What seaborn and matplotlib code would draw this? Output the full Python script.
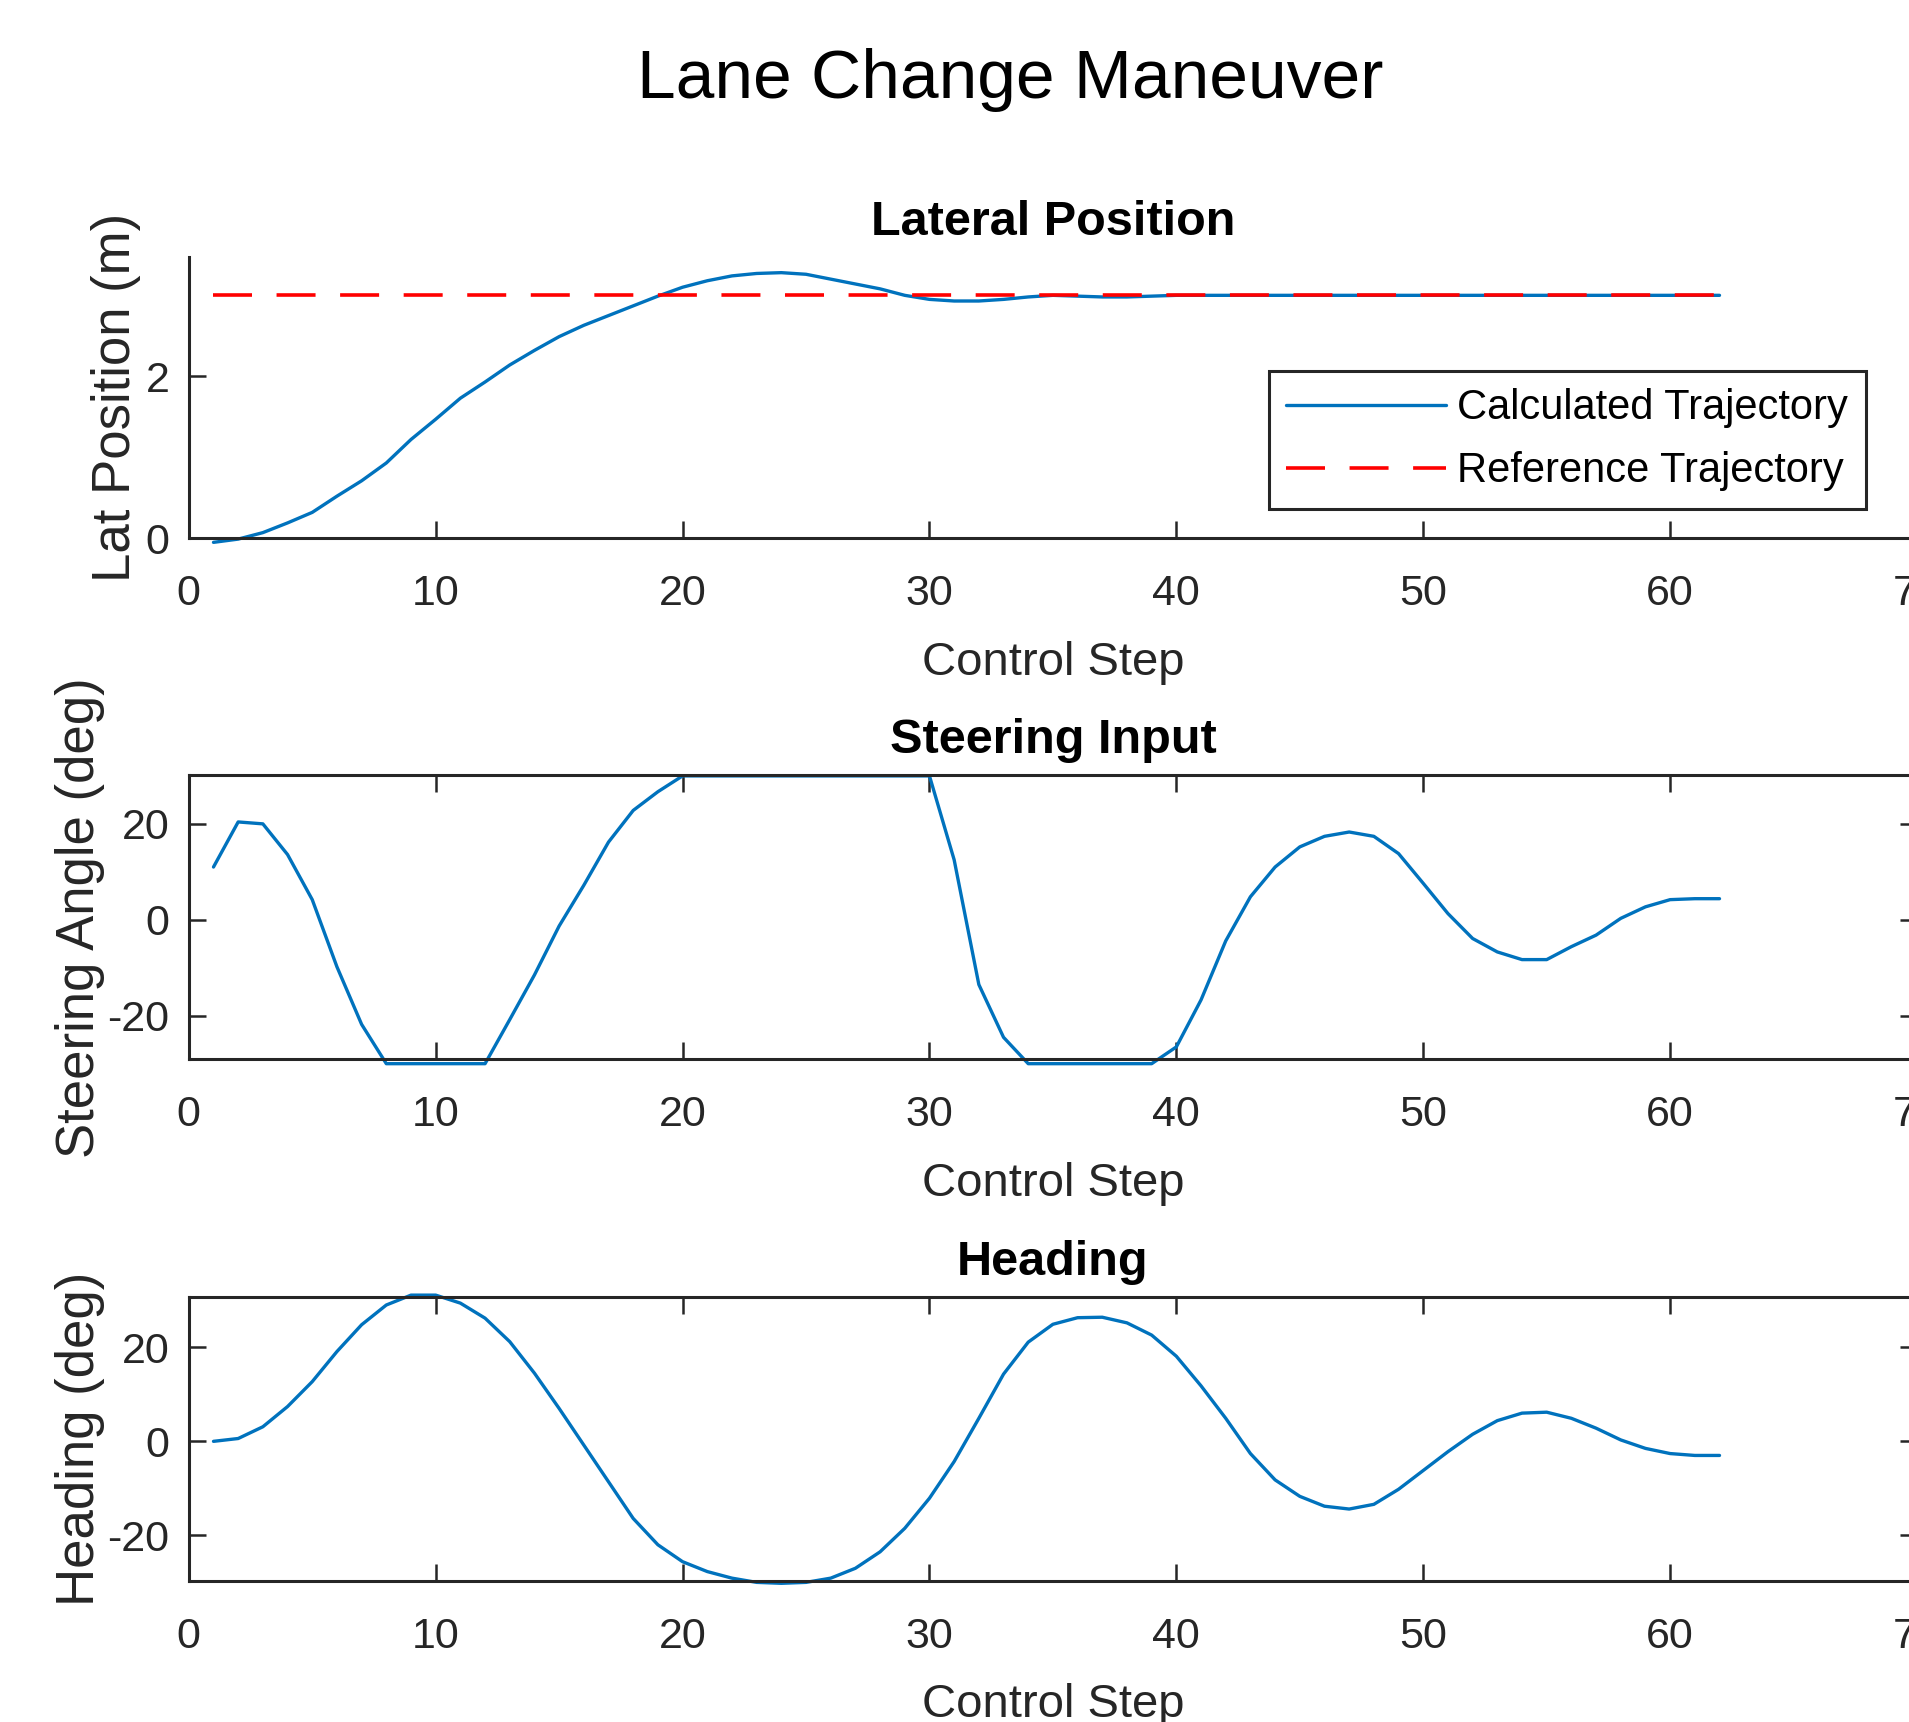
import numpy as np
import pandas as pd
import matplotlib
matplotlib.use("Agg")
import matplotlib.pyplot as plt
import seaborn as sns

# ================== Data ==================
steps = list(range(1, 63))

lat_position = [-0.05, -0.01, 0.07, 0.19, 0.32, 0.52, 0.71, 0.93, 1.22, 1.47,
                1.73, 1.93, 2.14, 2.32, 2.49, 2.63, 2.75, 2.87, 2.99, 3.10,
                3.18, 3.24, 3.27, 3.28, 3.26, 3.20, 3.14, 3.08, 3.00, 2.95,
                2.93, 2.93, 2.95, 2.98, 3.00, 2.99, 2.98, 2.98, 2.99, 3.00,
                3.00, 3.00, 3.00, 3.00, 3.00, 3.00, 3.00, 3.00, 3.00, 3.00,
                3.00, 3.00, 3.00, 3.00, 3.00, 3.00, 3.00, 3.00, 3.00, 3.00,
                3.00, 3.00]

ref_position = [3.0] * 62

steering_deg = [11.0, 20.4, 20.0, 13.6, 4.2, -9.8, -21.8, -30, -30, -30,
                -30, -30, -20.8, -11.5, -1.3, 7.2, 16.2, 22.8, 26.7, 30,
                30, 30, 30, 30, 30, 30, 30, 30, 30, 30,
                12.5, -13.5, -24.5, -30, -30, -30, -30, -30, -30, -26.5,
                -16.7, -4.4, 4.8, 11.0, 15.2, 17.4, 18.3, 17.4, 13.8, 7.6,
                1.3, -3.9, -6.7, -8.3, -8.3, -5.6, -3.2, 0.3, 2.7, 4.2,
                4.4, 4.4]

heading_deg = [0.0, 0.6, 3.1, 7.4, 12.7, 19.1, 24.8, 29.0, 31.1, 31.1,
               29.4, 26.2, 21.2, 14.5, 7.0, -0.8, -8.6, -16.4, -22.0, -25.6,
               -27.7, -29.1, -30.0, -30.2, -30.0, -29.1, -27.0, -23.5, -18.5, -12.1,
               -4.3, 4.9, 14.3, 21.1, 24.9, 26.3, 26.4, 25.2, 22.6, 18.1,
               11.8, 4.9, -2.6, -8.2, -11.7, -13.8, -14.4, -13.4, -10.2, -6.2,
               -2.2, 1.5, 4.4, 6.0, 6.2, 4.9, 2.8, 0.3, -1.5, -2.6,
               -3.0, -3.0]

df = pd.DataFrame({"step": steps, "lat": lat_position, "ref": ref_position,
                   "steer": steering_deg, "heading": heading_deg})

# ================== Style ==================
sns.set_theme(style="ticks")
plt.rcParams["font.family"] = ["Liberation Sans", "DejaVu Sans"]
plt.rcParams["axes.unicode_minus"] = False

AX_COLOR = "#262626"
BLUE = "#0072BD"
TICK_FS = 31
XLABEL_FS = 34
YLABEL_FS = 38
TITLE_FS = 35

fig = plt.figure(figsize=(19.09, 17.22), dpi=100)

# MATLAB figure is cropped on the right: axes run past the image edge
left, width = 0.0989, 0.9053
ax1 = fig.add_axes([left, 0.6874, width, 0.1632])
ax2 = fig.add_axes([left, 0.3848, width, 0.1649])
ax3 = fig.add_axes([left, 0.0819, width, 0.1649])


def style_axes(ax, boxed):
    for side in ["left", "bottom", "top", "right"]:
        ax.spines[side].set_color(AX_COLOR)
        ax.spines[side].set_linewidth(2.2)
    if not boxed:
        ax.spines["top"].set_visible(False)
        ax.spines["right"].set_visible(False)
    ax.tick_params(direction="in", length=12, width=1.8, color=AX_COLOR,
                   labelcolor=AX_COLOR, labelsize=TICK_FS,
                   top=boxed, right=boxed, labeltop=False, labelright=False)
    ax.tick_params(axis="x", pad=26)
    ax.tick_params(axis="y", pad=14)
    ax.set_xlim(0, 70)
    ax.set_xticks(range(0, 71, 10))
    ax.grid(False)


# ---- Lateral position ----
sns.lineplot(data=df, x="step", y="lat", ax=ax1, color=BLUE, linewidth=2.4,
             clip_on=False, label="Calculated Trajectory")
sns.lineplot(data=df, x="step", y="ref", ax=ax1, color="#FF0000", linewidth=2.6,
             clip_on=False, label="Reference Trajectory")
ax1.lines[-1].set_dashes((10.8, 6.8))
style_axes(ax1, boxed=False)
ax1.set_ylim(0, 3.47)
ax1.set_yticks([0, 2])
ax1.set_title("Lateral Position", fontsize=TITLE_FS, fontweight="bold", pad=16,
              color="black")
ax1.set_xlabel("Control Step", fontsize=XLABEL_FS, color=AX_COLOR, labelpad=19)
ax1.set_ylabel("Lat Position (m)", fontsize=YLABEL_FS, color=AX_COLOR, labelpad=3)
leg = ax1.legend(loc="upper left", bbox_to_anchor=(0.625, 0.5954),
                 borderaxespad=0, fontsize=30, frameon=True, fancybox=False,
                 handlelength=3.84, handletextpad=0.26, borderpad=0.42,
                 labelspacing=0.55, labelcolor="black")
leg.get_frame().set_edgecolor(AX_COLOR)
leg.get_frame().set_linewidth(2.2)
leg.get_frame().set_facecolor("white")
leg.get_frame().set_alpha(1)
leg.get_lines()[1].set_dashes((10.8, 6.8))

# ---- Steering input ----
sns.lineplot(data=df, x="step", y="steer", ax=ax2, color=BLUE, linewidth=2.4,
             clip_on=False)
style_axes(ax2, boxed=True)
ax2.set_ylim(-29.1, 30.1)
ax2.set_yticks([-20, 0, 20])
ax2.set_title("Steering Input", fontsize=TITLE_FS, fontweight="bold", pad=16,
              color="black")
ax2.set_xlabel("Control Step", fontsize=XLABEL_FS, color=AX_COLOR, labelpad=19)
ax2.set_ylabel("Steering Angle (deg)", fontsize=YLABEL_FS, color=AX_COLOR, labelpad=2)

# ---- Heading ----
sns.lineplot(data=df, x="step", y="heading", ax=ax3, color=BLUE, linewidth=2.4,
             clip_on=False)
style_axes(ax3, boxed=True)
ax3.set_ylim(-29.7, 30.7)
ax3.set_yticks([-20, 0, 20])
ax3.set_title("Heading", fontsize=TITLE_FS, fontweight="bold", pad=16,
              color="black")
ax3.set_xlabel("Control Step", fontsize=XLABEL_FS, color=AX_COLOR, labelpad=19)
ax3.set_ylabel("Heading (deg)", fontsize=YLABEL_FS, color=AX_COLOR, labelpad=2)

fig.suptitle("Lane Change Maneuver", x=0.529, y=0.9537, va="center",
             fontsize=50, color="black")

fig.savefig("out.png", dpi=100)
